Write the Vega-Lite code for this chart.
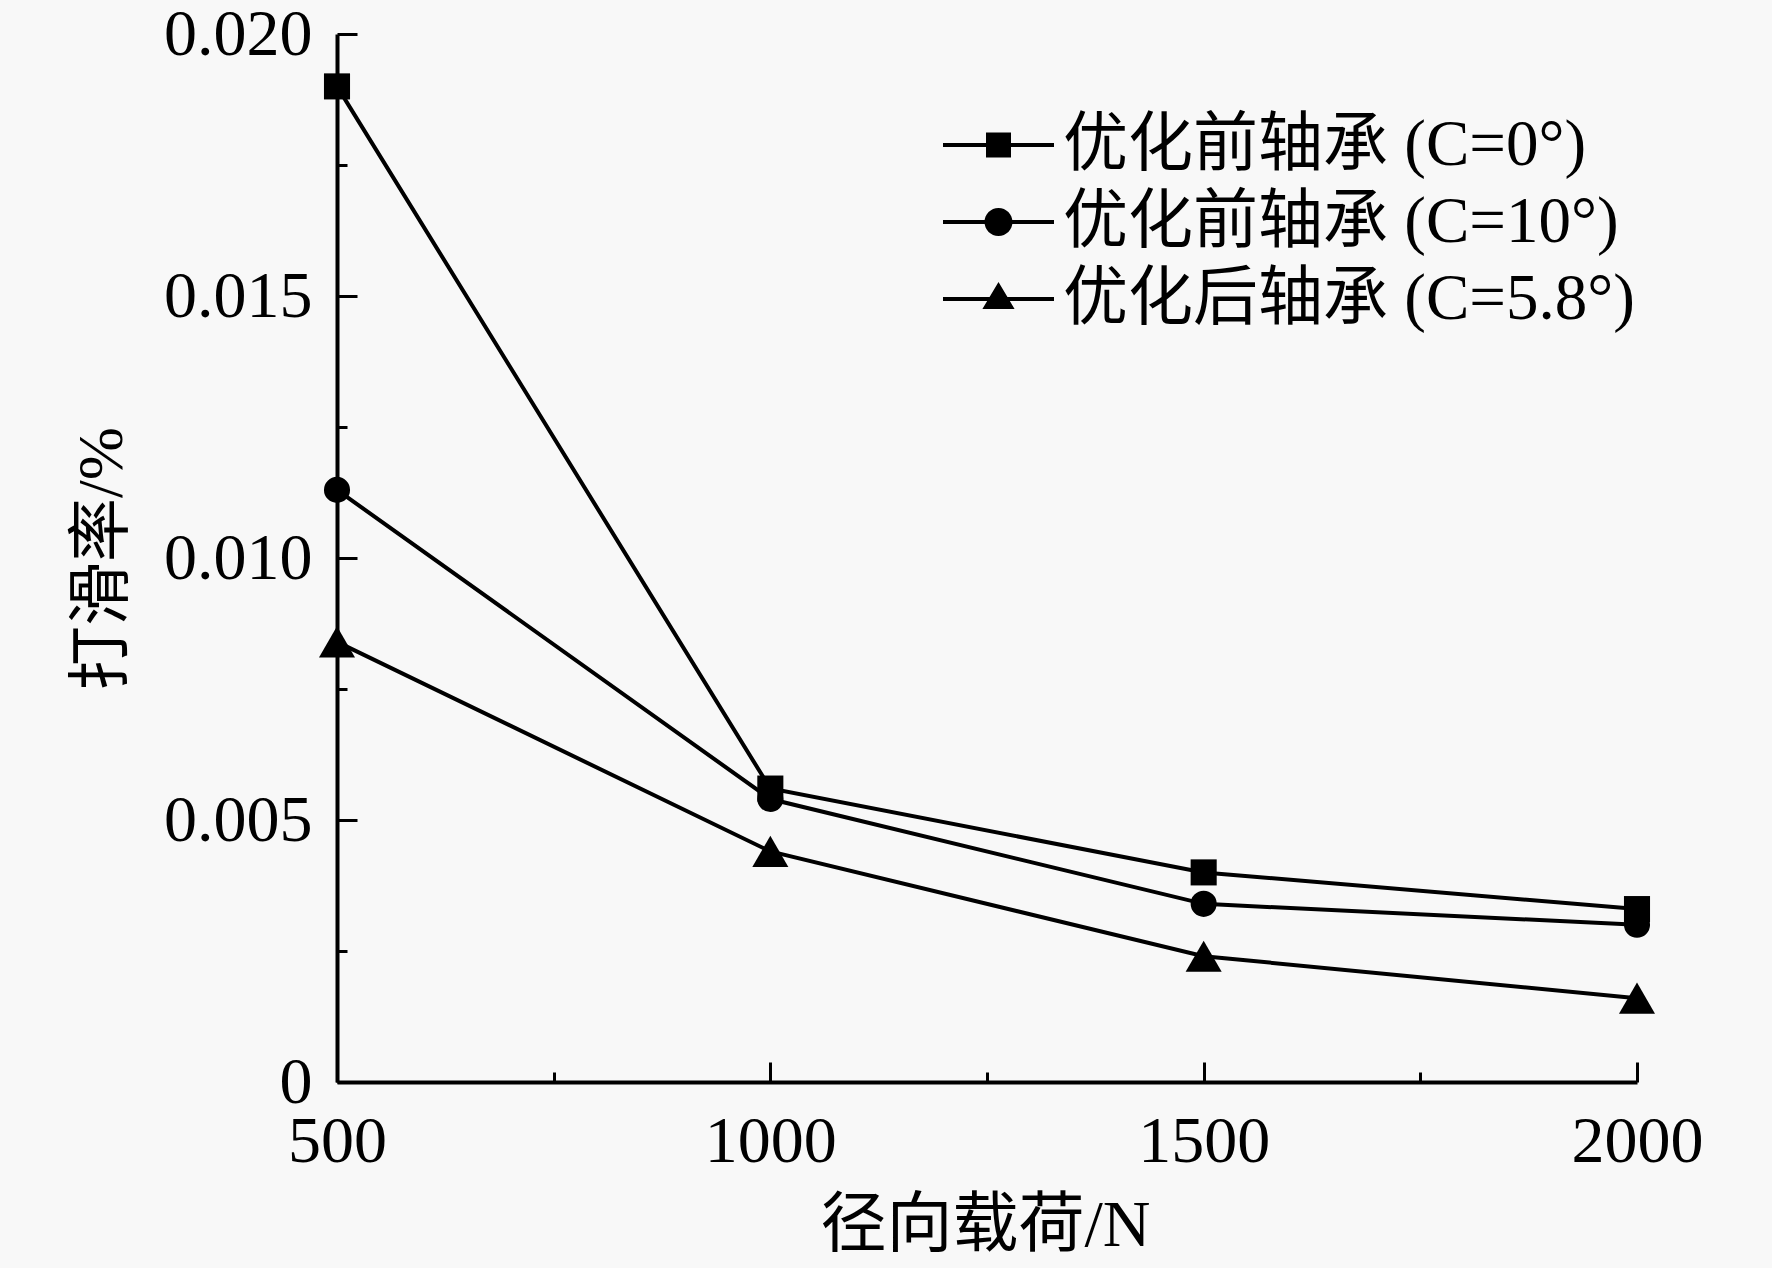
{
  "$schema": "https://vega.github.io/schema/vega-lite/v6.json",
  "width": 1300,
  "height": 1048,
  "autosize": {"type": "none"},
  "padding": {"left": 337, "top": 34, "right": 135, "bottom": 186},
  "background": "#f8f8f8",
  "config": {
    "view": {"stroke": null},
    "axis": {
      "grid": false,
      "domainColor": "black",
      "domainWidth": 4,
      "tickColor": "black",
      "tickWidth": 3,
      "labelColor": "black",
      "labelFont": "Liberation Serif",
      "labelFontSize": 66,
      "titleColor": "black",
      "titleFont": "Liberation Serif, Noto Sans CJK SC",
      "titleFontWeight": "normal"
    }
  },
  "data": {
    "values": [
      {"load": 500, "rate": 0.0190, "series": "优化前轴承 (C=0°)"},
      {"load": 1000, "rate": 0.0056, "series": "优化前轴承 (C=0°)"},
      {"load": 1500, "rate": 0.0040, "series": "优化前轴承 (C=0°)"},
      {"load": 2000, "rate": 0.0033, "series": "优化前轴承 (C=0°)"},
      {"load": 500, "rate": 0.0113, "series": "优化前轴承 (C=10°)"},
      {"load": 1000, "rate": 0.0054, "series": "优化前轴承 (C=10°)"},
      {"load": 1500, "rate": 0.0034, "series": "优化前轴承 (C=10°)"},
      {"load": 2000, "rate": 0.0030, "series": "优化前轴承 (C=10°)"},
      {"load": 500, "rate": 0.0084, "series": "优化后轴承 (C=5.8°)"},
      {"load": 1000, "rate": 0.0044, "series": "优化后轴承 (C=5.8°)"},
      {"load": 1500, "rate": 0.0024, "series": "优化后轴承 (C=5.8°)"},
      {"load": 2000, "rate": 0.0016, "series": "优化后轴承 (C=5.8°)"}
    ]
  },
  "encoding": {
    "x": {
      "field": "load",
      "type": "quantitative",
      "scale": {"domain": [500, 2000], "nice": false, "zero": false},
      "axis": {
        "values": [500, 750, 1000, 1250, 1500, 1750, 2000],
        "format": "d",
        "labelExpr": "datum.value % 500 == 0 ? datum.label : ''",
        "tickSize": {"condition": {"test": "datum.value % 500 == 0", "value": -20}, "value": -10},
        "labelPadding": 47,
        "labelFlush": false,
        "title": "径向载荷/N",
        "titleFontSize": 66,
        "titleX": 648,
        "titleY": 143,
        "titleAlign": "center",
        "titleBaseline": "middle"
      }
    },
    "y": {
      "field": "rate",
      "type": "quantitative",
      "scale": {"domain": [0, 0.02], "nice": false},
      "axis": {
        "values": [0, 0.0025, 0.005, 0.0075, 0.01, 0.0125, 0.015, 0.0175, 0.02],
        "labelExpr": "datum.value == 0 ? '0' : (round(datum.value*400) % 2 == 0 ? format(datum.value, '.3f') : '')",
        "tickSize": {"condition": {"test": "round(datum.value*400) % 2 == 0", "value": -20}, "value": -10},
        "labelPadding": 45,
        "labelFlush": false,
        "title": "打滑率/%",
        "titleFontSize": 64,
        "titleX": -235,
        "titleY": 524,
        "titleAngle": -90,
        "titleAlign": "center",
        "titleBaseline": "middle"
      }
    }
  },
  "resolve": {"scale": {"shape": "independent"}, "legend": {"shape": "independent"}},
  "layer": [
    {
      "mark": {"type": "line", "color": "black", "strokeWidth": 4},
      "encoding": {"detail": {"field": "series"}}
    },
    {
      "mark": {"type": "point", "filled": true, "color": "black", "opacity": 1, "size": 680},
      "encoding": {
        "shape": {
          "field": "series",
          "type": "nominal",
          "scale": {
            "domain": ["优化前轴承 (C=0°)", "优化前轴承 (C=10°)", "优化后轴承 (C=5.8°)"],
            "range": ["square", "circle", "triangle-up"]
          },
          "legend": null
        }
      }
    },
    {
      "transform": [{"filter": "datum.series == '优化后轴承 (C=5.8°)'"}],
      "mark": {"type": "point", "filled": true, "color": "black", "opacity": 1, "size": 1300, "shape": "triangle-up"}
    },
    {
      "transform": [{"filter": "false"}],
      "mark": {"type": "point", "filled": true, "color": "black", "opacity": 1, "size": 12321},
      "encoding": {
        "shape": {
          "field": "series",
          "type": "nominal",
          "scale": {
            "domain": ["优化前轴承 (C=0°)", "优化前轴承 (C=10°)", "优化后轴承 (C=5.8°)"],
            "range": [
              "M-1,-0.036H1V0.036H-1ZM-0.225,-0.225H0.225V0.225H-0.225Z",
              "M-1,-0.036H1V0.036H-1ZM0.252,0A0.252,0.252,0,1,1,-0.252,0A0.252,0.252,0,1,1,0.252,0Z",
              "M-1,-0.036H1V0.036H-1ZM0,-0.306L0.29,0.18H-0.29Z"
            ]
          },
          "legend": {
            "title": null,
            "orient": "none",
            "legendX": 605,
            "legendY": 76,
            "padding": 0,
            "symbolSize": 12321,
            "symbolFillColor": "black",
            "symbolOpacity": 1,
            "clipHeight": 70,
            "rowPadding": 7,
            "labelOffset": 8,
            "labelFont": "Liberation Serif, Noto Sans CJK SC",
            "labelFontSize": 65,
            "labelColor": "black",
            "labelLimit": 1000
          }
        }
      }
    }
  ]
}
